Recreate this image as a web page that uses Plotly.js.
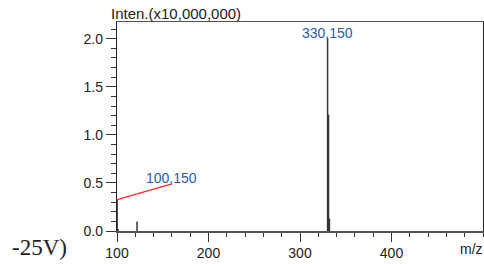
<!DOCTYPE html>
<html><head><meta charset="utf-8">
<script src="https://cdn.plot.ly/plotly-3.0.1.min.js"></script>
<style>html,body{margin:0;padding:0;background:#fff}#chart{width:484px;height:264px}</style>
</head><body><div id="chart"></div>
<script>
// Peak list (m/z, intensity in units of 10,000,000)
const peakMz = [100.15, 101.15, 121.9, 330.15, 331.15, 332.15];
const peakIntensity = [0.327, 0.02, 0.10, 2.005, 1.21, 0.13];
// Labeled peaks
const labelMz = [100.15, 330.15];
const labelIntensity = [0.327, 2.005];
const labelText = ["100,150", "330,150"];
// Label anchor points (for the leader line of the low-mass label)
const labelAnchorMz = [160, 330.15];
const labelAnchorY = [0.49, 2.005];
const xTickVals = [100, 200, 300, 400];
const yTickVals = [0, 0.5, 1.0, 1.5, 2.0];

const sx = [], sy = [];
peakMz.forEach((m, i) => { sx.push(m, m, null); sy.push(0, peakIntensity[i], null); });

const traces = [
  {x: sx, y: sy, type: 'scatter', mode: 'lines', line: {color: '#333', width: 1.5}, hoverinfo: 'skip', showlegend: false},
  {x: [labelMz[0], labelAnchorMz[0]], y: [labelIntensity[0], labelAnchorY[0]], type: 'scatter', mode: 'lines',
   line: {color: '#ff2a2a', width: 1.2}, hoverinfo: 'skip', showlegend: false}
];

const fontSans = 'Liberation Sans, Arial, sans-serif';
const annotations = [
  {x: labelAnchorMz[0], y: labelAnchorY[0], xref: 'x', yref: 'y', text: labelText[0], showarrow: false,
   xanchor: 'center', yanchor: 'bottom', yshift: -4, font: {family: fontSans, size: 14, color: '#2a5caa'}},
  {x: labelAnchorMz[1], y: labelAnchorY[1], xref: 'x', yref: 'y', text: labelText[1], showarrow: false,
   xanchor: 'center', yanchor: 'bottom', yshift: -5, font: {family: fontSans, size: 14, color: '#2a5caa'}},
  {x: -0.022, y: 1, xref: 'paper', yref: 'paper', text: 'Inten.(x10,000,000)', showarrow: false,
   xanchor: 'left', yanchor: 'bottom', yshift: -2, font: {family: fontSans, size: 15, color: '#222'}},
  {x: 1, y: -0.086, xref: 'paper', yref: 'paper', text: 'm/z', showarrow: false,
   xanchor: 'right', yanchor: 'middle', xshift: 2, font: {family: fontSans, size: 14, color: '#222'}},
  {x: -0.292, y: -0.077, xref: 'paper', yref: 'paper', text: '-25V)', showarrow: false,
   xanchor: 'left', yanchor: 'middle', font: {family: 'Liberation Serif, Times New Roman, serif', size: 23, color: '#222'}}
];

const layout = {
  width: 484, height: 264,
  margin: {l: 117, r: 1, t: 22, b: 33},
  paper_bgcolor: '#fff', plot_bgcolor: '#fff',
  showlegend: false,
  font: {family: fontSans, size: 14, color: '#222'},
  xaxis: {range: [100, 500], tickvals: xTickVals, ticktext: xTickVals.map(String),
    ticks: 'outside', ticklen: 9, tickcolor: '#333', tickwidth: 1,
    minor: {dtick: 20, tick0: 100, ticks: 'outside', ticklen: 4, tickcolor: '#333', showgrid: false},
    showline: true, linecolor: '#555', linewidth: 1.5, mirror: true,
    showgrid: false, zeroline: false, fixedrange: true,
    tickfont: {family: fontSans, size: 14, color: '#222'}},
  yaxis: {range: [0, 2.174], tickvals: yTickVals, ticktext: yTickVals.map(v => v.toFixed(1)),
    ticks: 'outside', ticklen: 10, tickcolor: '#333', tickwidth: 1,
    minor: {dtick: 0.1, tick0: 0, ticks: 'outside', ticklen: 5, tickcolor: '#333', showgrid: false},
    showline: true, linecolor: '#222', linewidth: 1.2, mirror: true,
    showgrid: false, zeroline: false, fixedrange: true,
    tickfont: {family: fontSans, size: 14, color: '#222'}},
  annotations: annotations
};

Plotly.newPlot('chart', traces, layout, {staticPlot: true, displayModeBar: false});
</script></body></html>
